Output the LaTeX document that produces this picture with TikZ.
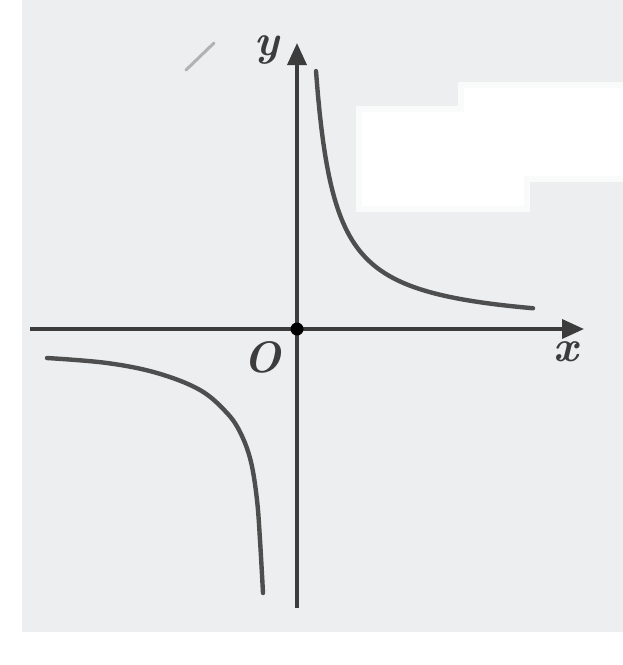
\documentclass[tikz,border=0pt]{standalone}
\usetikzlibrary{arrows.meta}
\definecolor{bgc}{HTML}{ECEEEF}
\definecolor{ink}{HTML}{3C3C3C}
\definecolor{crv}{HTML}{4E4E4E}
\tikzset{
  axisline/.style={draw=ink, line width=3.6pt, -{Triangle[length=22pt,width=19pt]}},
  curveline/.style={draw=crv, line width=4.4pt, line cap=round},
  lab/.style={inner sep=0pt, text=ink, font=\fontsize{44}{46}\selectfont\bfseries\itshape}
}
\begin{document}
\begin{tikzpicture}[x=1pt,y=-1pt]
\useasboundingbox (0,0) rectangle (623,665);
\fill[white] (0,0) rectangle (623,665);
\fill[bgc] (22,0) rectangle (623,632);
\fill[white!70!bgc] (356,106) rectangle (530,212);
\fill[white!70!bgc] (458,82) rectangle (623,182);
\fill[white] (362,112) rectangle (524,206);
\fill[white] (464,88) rectangle (623,176);
\draw[black!30, line width=3pt, line cap=round] (186,70) -- (214,43);
% axes
\coordinate (xs) at (30,329);
\coordinate (xe) at (584,329);
\coordinate (ys) at (297,608);
\coordinate (ye) at (297,43);
\draw[axisline] (xs) -- (xe);
\draw[axisline] (ys) -- (ye);
\node[circle, fill=black, inner sep=0pt, minimum size=13pt] (o) at (297,329) {};
% branches
\begin{scope}[shift={(o)}]
\draw[curveline] plot[domain=19:236, samples=120, variable=\t] ({\t}, {-4900/\t});
\end{scope}
\draw[curveline] plot[smooth, tension=0.6] coordinates {(47,358) (107,363) (157,373) (200,390) (227,413) (241,434) (251,462) (257,500) (260,540) (263,593)};
% labels
\node[lab] (ylab) at (267,50) {y};
\node[lab] (olab) at (262,357) {O};
\node[lab] (xlab) at (566,352) {x};
\end{tikzpicture}
\end{document}
